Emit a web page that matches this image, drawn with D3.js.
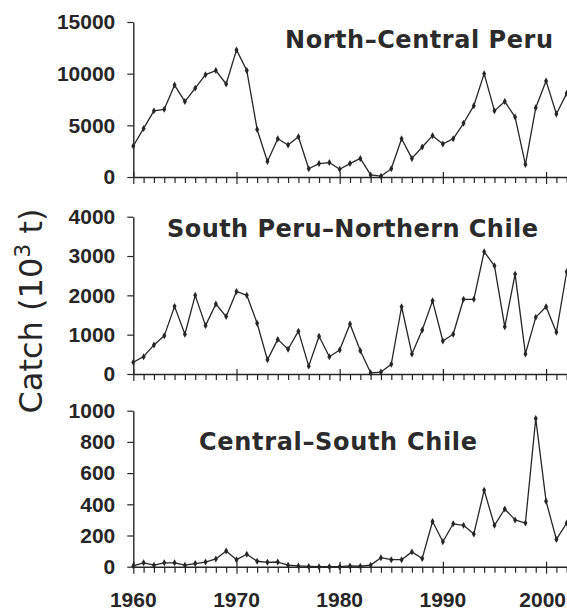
<!DOCTYPE html>
<html>
<head>
<meta charset="utf-8">
<script src="https://cdn.jsdelivr.net/npm/d3@7"></script>
<style>
  body { margin: 0; background: #fff; }
  svg { display: block; }
</style>
</head>
<body>
<svg id="chart" width="567" height="612"></svg>
<script>
// Annual anchovy catch (thousand tonnes) by region, 1960-2002
const years = [1960,1961,1962,1963,1964,1965,1966,1967,1968,1969,
               1970,1971,1972,1973,1974,1975,1976,1977,1978,1979,
               1980,1981,1982,1983,1984,1985,1986,1987,1988,1989,
               1990,1991,1992,1993,1994,1995,1996,1997,1998,1999,
               2000,2001,2002];

const northCentralPeru = [3000,4700,6400,6550,8900,7300,8600,9900,10300,9000,
                          12300,10300,4600,1500,3700,3100,3900,800,1300,1400,
                          750,1300,1800,200,80,800,3700,1800,2900,4000,
                          3200,3700,5200,6900,10000,6400,7300,5800,1200,6700,
                          9300,6100,8100];

const southPeruNorthChile = [300,440,740,970,1720,1010,2000,1230,1780,1460,
                             2100,2000,1290,360,880,630,1090,200,960,440,
                             610,1270,590,30,50,250,1710,510,1120,1860,
                             840,1010,1900,1900,3110,2750,1200,2540,510,1440,
                             1710,1060,2600];

const centralSouthChile = [5,25,10,25,25,10,20,30,50,100,
                           45,80,35,28,30,10,5,2,0,0,
                           0,5,3,10,58,45,45,95,53,290,
                           160,275,265,210,490,265,370,300,280,950,
                           420,175,280];

const ticksNorth = [0, 5000, 10000, 15000];
const ticksSouth = [0, 1000, 2000, 3000, 4000];
const ticksCentral = [0, 200, 400, 600, 800, 1000];
const decadeTicks = [1960, 1970, 1980, 1990, 2000];

const panelTitles = ["North\u2013Central Peru", "South Peru\u2013Northern Chile", "Central\u2013South Chile"];

const ink = "#262626";
const W = 567;
const svg = d3.select("#chart");

const x = d3.scaleLinear().domain([1960, 2002]).range([133.3, 566.7]);

const panels = [
  { title: panelTitles[0], values: northCentralPeru, ticks: ticksNorth,
    top: 22, bottom: 177, titleX: 285, titleY: 48, titleW: 268 },
  { title: panelTitles[1], values: southPeruNorthChile, ticks: ticksSouth,
    top: 216.7, bottom: 374, titleX: 167, titleY: 236.5, titleW: 371 },
  { title: panelTitles[2], values: centralSouthChile, ticks: ticksCentral,
    top: 410.7, bottom: 566.7, titleX: 199, titleY: 450, titleW: 278 }
];

panels.forEach((p, i) => {
  const yMax = p.ticks[p.ticks.length - 1];
  const y = d3.scaleLinear().domain([0, yMax]).range([p.bottom, p.top]);
  const g = svg.append("g");

  // year ticks along the bottom, decades drawn longer and crossing the line
  const xAxis = g.append("g")
    .attr("transform", `translate(0,${p.bottom})`)
    .call(d3.axisBottom(x).tickValues(years).tickSize(6).tickSizeOuter(0).tickFormat(""));
  xAxis.selectAll(".tick line")
    .filter(d => d % 10 === 0)
    .attr("y1", -5).attr("y2", 7);

  // value axis
  const yAxis = g.append("g")
    .attr("transform", `translate(${x(1960)},0)`)
    .call(d3.axisLeft(y).tickValues(p.ticks).tickSize(6).tickSizeOuter(0).tickPadding(12)
      .tickFormat(d3.format("d")));

  [xAxis, yAxis].forEach(a => {
    a.selectAll("path.domain").attr("stroke", ink).attr("stroke-width", 1.4);
    a.selectAll(".tick line").attr("stroke", ink).attr("stroke-width", 1.2);
  });
  yAxis.selectAll(".tick text")
    .attr("fill", ink)
    .style("font-family", "'Liberation Sans', Arial, sans-serif")
    .style("font-weight", "bold")
    .style("font-size", "21px");

  // decade labels under the last panel only; keep the last one inside the frame
  if (i === panels.length - 1) {
    g.selectAll(".decade")
      .data(decadeTicks)
      .join("text")
      .attr("class", "decade")
      .attr("y", 606.5)
      .attr("text-anchor", "middle")
      .attr("fill", ink)
      .style("font-family", "'Liberation Sans', Arial, sans-serif")
      .style("font-weight", "bold")
      .style("font-size", "21px")
      .text(d => d)
      .attr("x", function (d) {
        const half = this.getComputedTextLength() / 2;
        return Math.min(x(d), W - 1 - half);
      });
  }

  // catch series
  const series = years.map((yr, k) => ({ yr, v: p.values[k] }));
  g.append("path")
    .datum(series)
    .attr("fill", "none")
    .attr("stroke", ink)
    .attr("stroke-width", 1.3)
    .attr("stroke-linejoin", "round")
    .attr("d", d3.line().x(d => x(d.yr)).y(d => y(d.v)));

  g.selectAll(".pt")
    .data(series)
    .join("path")
    .attr("class", "pt")
    .attr("transform", d => `translate(${x(d.yr)},${y(d.v)})`)
    .attr("d", d3.symbol(d3.symbolDiamond, 14))
    .attr("fill", ink);

  // region title
  g.append("text")
    .attr("x", p.titleX)
    .attr("y", p.titleY)
    .attr("textLength", p.titleW)
    .attr("fill", "#2b2b2b")
    .style("font-family", "'DejaVu Sans', sans-serif")
    .style("font-weight", "bold")
    .style("font-size", "24px")
    .text(p.title);
});

// shared value-axis title
const yl = svg.append("text")
  .attr("transform", "translate(42,311) rotate(-90)")
  .attr("text-anchor", "middle")
  .attr("fill", ink)
  .style("font-family", "'DejaVu Sans', sans-serif")
  .style("font-size", "32px");
yl.append("tspan").text("Catch (10");
yl.append("tspan").attr("dy", -12).style("font-size", "22px").text("3");
yl.append("tspan").attr("dy", 12).text(" t)");
</script>
</body>
</html>
